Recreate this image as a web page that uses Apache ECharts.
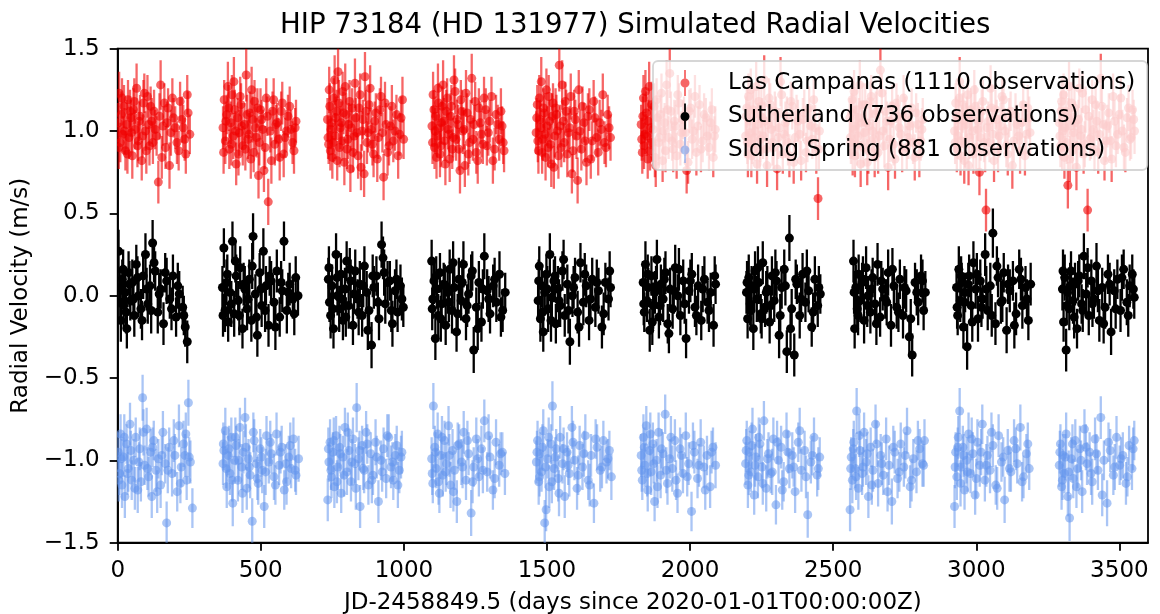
<!DOCTYPE html>
<html>
<head>
<meta charset="utf-8">
<script src="https://cdn.jsdelivr.net/npm/echarts@6/dist/echarts.min.js"></script>
<style>html,body{margin:0;padding:0;background:#fff}#chart{width:1160px;height:614px}</style>
</head>
<body>
<div id="chart"></div>
<script>
// [days, radial velocity (m/s), error (m/s)]
const lasCampanas = [
[2,1.05,.12],[5,1.23,.13],[9,0.93,.12],[13,1.10,.14],[18,0.98,.11],[22,1.15,.13],[27,0.88,.12],[31,1.04,.15],[36,1.19,.12],[40,0.96,.13],[46,1.08,.11],[51,0.85,.14],[55,1.13,.13],[61,1.01,.12],[66,1.26,.15],[72,0.94,.12],[78,1.09,.13],[84,0.82,.12],[90,1.17,.14],[97,1.00,.12],[104,1.21,.13],[111,0.91,.12],[119,1.06,.14],[127,1.12,.13],[136,0.97,.12],[142,0.69,.13],[150,1.28,.15],[158,1.03,.12],[167,0.90,.13],[176,1.14,.12],[186,0.99,.14],[195,1.08,.12],[207,0.93,.13],[218,1.18,.12],[229,1.02,.14],[238,0.86,.12],[246,1.11,.13],[252,0.98,.12],
[368,1.02,.13],[372,1.19,.12],[376,0.94,.14],[381,1.10,.12],[385,1.27,.15],[390,0.89,.12],[395,1.05,.13],[399,1.22,.12],[404,0.97,.14],[409,1.13,.12],[414,0.80,.13],[419,1.08,.12],[425,0.99,.14],[431,1.16,.13],[437,0.91,.12],[443,1.04,.13],[449,1.34,.16],[455,0.95,.12],[462,1.11,.13],[468,1.25,.14],[475,0.87,.12],[481,1.02,.13],[488,1.14,.12],[495,0.93,.14],[503,1.07,.12],[511,0.76,.13],[519,1.20,.12],[526,0.57,.14],[533,1.00,.13],[541,1.12,.12],[549,0.92,.13],[557,1.05,.12],[566,0.84,.14],[575,1.17,.13],[585,0.96,.12],[595,1.09,.13],[606,1.01,.12],[616,0.88,.14],[623,1.06,.13],
[733,1.07,.13],[737,0.92,.12],[741,1.15,.14],[745,1.01,.12],[750,0.84,.13],[755,1.20,.12],[760,0.97,.14],[765,1.12,.13],[770,1.36,.16],[775,0.90,.12],[781,1.05,.13],[786,1.24,.12],[792,0.81,.14],[798,1.10,.13],[804,0.95,.12],[810,1.18,.13],[816,1.02,.14],[822,0.87,.12],[829,1.29,.15],[836,0.99,.12],[843,1.14,.13],[850,0.78,.14],[857,1.07,.12],[864,1.33,.15],[871,0.93,.13],[878,1.16,.12],[886,1.01,.13],[894,0.86,.14],[902,1.11,.12],[911,0.96,.13],[920,1.21,.12],[929,0.72,.14],[938,1.04,.13],[948,0.91,.12],[958,1.15,.13],[969,1.00,.12],[980,0.85,.14],[990,1.08,.13],[999,0.95,.12],
[1098,1.03,.12],[1102,1.22,.14],[1107,0.90,.13],[1111,1.09,.12],[1116,0.97,.13],[1121,1.17,.12],[1126,0.86,.14],[1131,1.05,.13],[1137,1.28,.15],[1142,0.94,.12],[1148,1.12,.13],[1154,1.01,.12],[1160,0.83,.14],[1166,1.15,.13],[1172,0.96,.12],[1179,1.24,.14],[1185,1.07,.12],[1192,0.89,.13],[1199,1.19,.12],[1206,1.00,.14],[1213,0.79,.13],[1221,1.11,.12],[1229,0.93,.13],[1237,1.32,.15],[1245,1.04,.12],[1253,0.87,.13],[1262,1.14,.12],[1271,0.98,.14],[1280,1.20,.13],[1290,0.91,.12],[1300,1.06,.13],[1311,0.82,.14],[1322,1.10,.12],[1333,0.95,.13],[1343,1.03,.12],[1350,0.88,.13],
[1462,0.99,.13],[1466,1.16,.12],[1470,0.88,.14],[1475,1.07,.12],[1480,1.30,.15],[1485,0.95,.13],[1490,1.11,.12],[1495,0.84,.14],[1501,1.03,.12],[1506,1.21,.13],[1512,0.92,.12],[1518,1.09,.14],[1524,0.78,.13],[1530,1.14,.12],[1536,1.00,.13],[1543,1.40,.16],[1550,0.90,.12],[1557,1.06,.13],[1564,1.18,.12],[1571,0.86,.14],[1579,1.02,.13],[1587,0.74,.12],[1595,1.12,.13],[1603,0.97,.14],[1611,1.25,.12],[1620,0.89,.13],[1629,1.05,.12],[1638,0.81,.14],[1648,1.13,.13],[1658,0.94,.12],[1668,1.08,.13],[1679,0.87,.14],[1690,1.01,.12],[1701,0.93,.13],[1712,1.10,.12],[1722,0.96,.14],
[1829,1.04,.12],[1833,0.87,.13],[1837,1.20,.14],[1842,0.98,.12],[1847,1.11,.13],[1852,0.83,.12],[1857,1.27,.15],[1862,1.02,.13],[1868,0.93,.12],[1874,1.15,.14],[1880,0.79,.13],[1886,1.08,.12],[1893,0.96,.13],[1900,1.23,.12],[1907,1.00,.14],[1914,0.88,.13],[1921,1.13,.12],[1929,1.35,.15],[1937,0.94,.12],[1945,1.06,.13],[1953,0.85,.14],[1961,1.17,.12],[1970,0.99,.13],[1979,1.09,.12],[1988,0.76,.14],[1997,1.12,.13],[2007,0.95,.12],[2017,1.21,.13],[2027,1.03,.12],[2038,0.89,.14],[2049,1.10,.13],[2060,0.97,.12],[2071,1.05,.13],[2081,0.84,.12],[2088,1.01,.14],
[2194,0.97,.13],[2198,1.14,.12],[2202,0.86,.14],[2207,1.06,.12],[2212,1.25,.13],[2217,0.92,.12],[2222,1.10,.14],[2228,1.00,.13],[2234,0.80,.12],[2240,1.18,.13],[2246,0.95,.14],[2252,1.08,.12],[2259,1.31,.15],[2266,0.89,.13],[2273,1.04,.12],[2280,1.16,.13],[2288,0.93,.14],[2296,1.12,.12],[2304,0.77,.13],[2312,1.02,.12],[2320,1.22,.14],[2329,0.98,.13],[2338,1.09,.12],[2347,0.85,.13],[2357,1.15,.14],[2367,0.96,.12],[2377,1.06,.13],[2388,0.82,.12],[2399,1.11,.14],[2410,0.94,.13],[2421,1.03,.12],[2432,1.19,.13],[2441,0.88,.14],[2447,0.59,.13],[2452,1.00,.12],
[2558,1.08,.12],[2562,0.93,.13],[2566,1.19,.14],[2571,1.01,.12],[2576,0.85,.13],[2581,1.13,.12],[2587,0.97,.14],[2593,1.28,.15],[2599,1.05,.13],[2605,0.90,.12],[2612,1.16,.13],[2619,0.81,.14],[2626,1.03,.12],[2633,1.21,.13],[2641,0.95,.12],[2649,1.10,.14],[2657,0.87,.13],[2665,1.37,.16],[2674,1.00,.12],[2683,1.12,.13],[2692,0.78,.14],[2701,1.06,.12],[2711,0.92,.13],[2721,1.17,.12],[2731,1.02,.14],[2741,0.88,.13],[2752,1.09,.12],[2763,0.96,.13],[2774,1.14,.12],[2785,0.84,.14],[2796,1.04,.13],[2806,0.94,.12],[2813,1.07,.13],
[2924,1.00,.13],[2928,1.17,.12],[2932,0.89,.14],[2937,1.07,.12],[2942,1.30,.15],[2947,0.94,.13],[2952,1.11,.12],[2958,0.82,.14],[2964,1.04,.13],[2970,1.22,.12],[2976,0.96,.13],[2983,1.09,.14],[2990,0.86,.12],[2997,1.15,.13],[3004,1.01,.12],[3011,0.75,.14],[3019,1.12,.13],[3027,0.93,.12],[3034,0.52,.13],[3042,1.06,.12],[3050,1.26,.14],[3058,0.98,.13],[3067,1.13,.12],[3076,0.88,.13],[3085,1.03,.14],[3095,1.19,.12],[3105,0.91,.13],[3115,1.08,.12],[3126,0.79,.14],[3137,1.10,.13],[3148,0.97,.12],[3159,1.05,.13],[3170,0.85,.12],[3180,1.14,.14],[3188,0.99,.13],
[3290,1.05,.12],[3294,0.91,.13],[3298,1.18,.14],[3303,1.00,.12],[3308,0.84,.13],[3313,1.12,.12],[3320,0.67,.14],[3324,1.27,.15],[3330,1.03,.13],[3336,0.88,.12],[3343,1.14,.13],[3350,0.78,.14],[3357,1.07,.12],[3364,0.97,.13],[3371,1.23,.12],[3379,0.92,.14],[3389,0.52,.13],[3393,1.09,.12],[3401,0.96,.13],[3409,1.01,.12],[3417,1.16,.14],[3426,0.87,.13],[3435,1.32,.15],[3444,1.04,.12],[3453,0.94,.13],[3463,1.11,.12],[3473,0.83,.14],[3483,1.06,.13],[3494,0.98,.12],[3505,1.20,.13],[3516,0.90,.14],[3527,1.08,.12],[3537,0.95,.13],[3546,1.13,.12],[3553,1.00,.14],
[4,0.90,.13],[15,1.20,.12],[24,1.00,.14],[34,0.86,.12],[43,1.12,.13],[48,0.99,.12],[58,1.18,.14],[69,0.91,.13],[75,1.06,.12],[87,0.97,.13],[93,1.23,.12],[100,0.88,.14],[108,1.04,.13],[115,1.15,.12],[123,0.93,.13],[131,1.01,.12],[146,1.09,.14],[154,0.84,.13],[163,1.17,.12],[172,1.05,.13],[181,0.79,.14],[191,1.20,.12],[201,1.02,.13],[213,0.88,.12],[224,1.07,.14],[234,0.95,.13],[243,1.22,.12],
[370,0.87,.13],[378,1.06,.12],[388,1.14,.14],[397,0.92,.13],[406,1.30,.15],[412,1.00,.12],[422,0.86,.13],[428,1.21,.12],[434,1.03,.14],[446,0.89,.13],[452,1.10,.12],[459,0.98,.13],[465,0.83,.12],[471,1.07,.14],[478,1.18,.13],[485,0.96,.12],[492,0.73,.14],[499,1.13,.13],[507,1.01,.12],[515,0.90,.13],[523,1.09,.12],[537,0.82,.14],[545,1.19,.13],[553,1.04,.12],[562,0.95,.13],[571,1.12,.12],[580,0.86,.14],[590,1.00,.13],[601,1.15,.12],[611,0.93,.13],[620,1.02,.12],
[735,0.96,.13],[739,1.25,.14],[743,0.88,.12],[748,1.05,.13],[753,0.93,.12],[758,1.31,.15],[762,1.08,.13],[767,0.82,.12],[773,1.17,.14],[778,1.02,.13],[784,0.94,.12],[789,1.11,.13],[795,1.27,.14],[801,0.89,.12],[807,1.04,.13],[813,0.77,.14],[819,1.14,.12],[826,0.97,.13],[832,1.08,.12],[840,0.85,.14],[847,1.22,.13],[854,1.00,.12],[861,0.74,.14],[868,1.12,.13],[875,0.99,.12],[882,1.26,.14],[890,0.92,.13],[898,1.06,.12],[907,0.83,.14],[916,1.13,.13],[925,0.99,.12],[934,1.17,.13],[943,0.87,.14],[953,1.03,.12],[963,0.94,.13],[974,1.10,.12],[985,0.98,.13],[995,1.19,.14],
[1100,0.93,.13],[1105,1.13,.12],[1109,1.00,.14],[1114,0.84,.13],[1119,1.26,.15],[1124,1.02,.12],[1129,0.91,.13],[1134,1.15,.12],[1140,1.06,.14],[1145,0.80,.13],[1151,1.20,.12],[1157,0.98,.13],[1163,1.09,.14],[1169,0.89,.12],[1175,1.31,.15],[1182,0.95,.13],[1189,1.04,.12],[1196,0.76,.14],[1203,1.12,.13],[1210,1.01,.12],[1217,1.23,.14],[1225,0.86,.13],[1233,1.07,.12],[1241,0.95,.13],[1249,1.18,.12],[1258,0.82,.14],[1267,1.05,.13],[1276,0.92,.12],[1286,1.13,.13],[1295,0.99,.14],[1306,1.21,.12],[1317,0.89,.13],[1328,1.04,.12],[1339,1.12,.14],[1347,0.93,.13],
[1464,1.08,.12],[1468,0.94,.13],[1473,1.20,.14],[1478,1.02,.12],[1483,0.87,.13],[1488,1.14,.12],[1493,0.98,.14],[1498,1.25,.13],[1504,0.90,.12],[1509,1.06,.13],[1515,0.80,.14],[1521,1.17,.12],[1527,0.97,.13],[1533,1.10,.12],[1540,0.85,.14],[1546,1.03,.13],[1553,1.28,.15],[1560,0.93,.12],[1567,1.12,.13],[1575,0.99,.12],[1583,1.21,.14],[1591,0.88,.13],[1599,1.07,.12],[1607,0.70,.14],[1615,1.00,.13],[1624,1.15,.12],[1633,0.94,.13],[1643,1.09,.14],[1653,0.83,.12],[1663,1.18,.13],[1673,0.96,.12],[1684,1.05,.14],[1695,1.22,.13],[1706,0.90,.12],[1717,1.02,.13],
[1831,0.95,.13],[1835,1.09,.12],[1839,0.91,.14],[1844,1.24,.13],[1849,0.97,.12],[1854,1.06,.13],[1860,0.88,.12],[1865,1.16,.14],[1871,1.01,.13],[1877,0.84,.12],[1883,1.19,.13],[1890,0.93,.14],[1897,1.10,.12],[1904,0.82,.13],[1911,1.05,.12],[1918,1.28,.15],[1925,0.96,.13],[1933,1.12,.12],[1941,0.89,.14],[1949,1.03,.13],[1957,1.22,.12],[1966,0.92,.13],[1975,1.07,.12],[1984,0.99,.14],[1993,0.81,.13],[2002,1.14,.12],[2012,1.00,.13],[2022,0.87,.14],[2033,1.16,.12],[2044,0.94,.13],[2055,1.08,.12],[2066,0.90,.14],[2076,1.13,.13],[2085,0.97,.12],
[2196,1.09,.12],[2200,0.93,.13],[2204,1.21,.14],[2209,0.99,.12],[2214,0.85,.13],[2220,1.13,.12],[2225,0.96,.14],[2231,1.27,.15],[2237,1.04,.13],[2243,0.88,.12],[2249,1.15,.13],[2255,0.97,.14],[2262,1.06,.12],[2269,0.79,.13],[2276,1.20,.12],[2284,1.01,.14],[2292,0.90,.13],[2300,1.09,.12],[2308,0.96,.13],[2316,1.30,.15],[2324,0.86,.12],[2333,1.05,.13],[2342,0.93,.14],[2352,1.18,.12],[2362,0.81,.13],[2372,1.10,.12],[2383,0.98,.14],[2394,1.07,.13],[2405,0.87,.12],[2416,1.14,.13],[2427,0.95,.12],[2437,1.02,.14],[2450,0.89,.13],
[2560,0.96,.13],[2564,1.11,.12],[2568,0.87,.14],[2573,1.24,.13],[2578,1.03,.12],[2584,0.92,.13],[2590,1.08,.12],[2596,0.80,.14],[2602,1.16,.13],[2609,0.99,.12],[2616,1.05,.13],[2623,0.88,.14],[2630,1.18,.12],[2637,1.00,.13],[2645,0.84,.12],[2653,1.12,.14],[2661,0.97,.13],[2670,1.23,.12],[2679,0.91,.13],[2688,1.06,.12],[2697,0.95,.14],[2706,1.15,.13],[2716,0.83,.12],[2726,1.09,.13],[2736,0.98,.12],[2746,1.20,.14],[2757,0.90,.13],[2768,1.03,.12],[2779,0.93,.13],[2790,1.11,.12],[2801,0.86,.14],[2810,1.01,.13],
[2926,0.93,.13],[2930,1.09,.12],[2935,0.97,.14],[2940,1.20,.13],[2945,0.85,.12],[2950,1.03,.13],[2955,1.16,.12],[2961,0.92,.14],[2967,1.08,.13],[2973,0.79,.12],[2980,1.13,.13],[2986,1.00,.14],[2993,1.25,.12],[3000,0.90,.13],[3007,1.06,.12],[3015,0.96,.14],[3023,1.18,.13],[3031,0.87,.12],[3038,1.02,.13],[3046,0.93,.12],[3054,1.14,.14],[3062,0.82,.13],[3071,1.07,.12],[3080,0.97,.13],[3090,1.21,.12],[3100,1.00,.14],[3110,0.86,.13],[3120,1.12,.12],[3131,0.94,.13],[3142,1.04,.12],[3153,0.88,.14],[3164,1.16,.13],[3175,0.98,.12],[3185,1.08,.13],
[3292,0.97,.13],[3296,1.12,.12],[3300,0.90,.14],[3305,1.22,.13],[3310,1.02,.12],[3316,0.93,.13],[3322,1.08,.12],[3327,0.83,.14],[3333,1.17,.13],[3340,0.99,.12],[3346,1.05,.13],[3353,0.91,.14],[3360,1.26,.12],[3367,1.01,.13],[3375,0.86,.12],[3382,1.13,.14],[3397,0.95,.13],[3405,1.19,.12],[3413,0.89,.13],[3421,1.06,.12],[3430,0.98,.14],[3439,1.15,.13],[3448,0.82,.12],[3458,1.03,.13],[3468,0.94,.12],[3478,1.21,.14],[3488,0.91,.13],[3499,1.10,.12],[3510,1.00,.13],[3521,0.87,.12],[3532,1.14,.14],[3541,0.96,.13],[3550,1.07,.12]
];
const sutherland = [
[3,0.27,.13],[7,0.05,.12],[11,-0.15,.13],[16,0.10,.12],[21,-0.06,.14],[26,0.02,.13],[32,-0.20,.12],[38,0.14,.13],[44,-0.03,.12],[51,0.08,.14],[58,-0.12,.13],[65,0.19,.12],[73,0.00,.13],[81,-0.08,.12],[89,0.12,.14],[97,0.25,.13],[105,-0.05,.12],[113,0.06,.13],[122,0.32,.14],[131,0.15,.12],[140,-0.10,.13],[150,0.04,.12],[160,-0.17,.13],[171,0.09,.14],[182,-0.02,.12],[193,0.12,.13],[204,-0.13,.12],[215,0.01,.14],[227,-0.07,.13],[236,-0.19,.12],[243,-0.28,.13],
[366,0.05,.13],[371,0.29,.12],[375,-0.09,.13],[380,0.08,.14],[386,-0.16,.12],[392,0.02,.13],[401,0.33,.12],[407,-0.11,.14],[414,0.12,.13],[421,-0.03,.12],[428,0.17,.13],[436,-0.20,.12],[444,0.04,.14],[452,-0.08,.13],[460,0.10,.12],[467,-0.15,.13],[473,0.36,.14],[481,0.01,.12],[488,-0.24,.13],[496,0.14,.12],[503,-0.06,.13],[509,0.27,.14],[518,0.06,.12],[527,-0.18,.13],[536,0.09,.12],[546,-0.04,.14],[556,0.15,.13],[566,-0.13,.12],[575,0.03,.13],[581,0.33,.12],[591,-0.09,.14],[601,0.07,.13],[612,-0.02,.12],[622,0.11,.13],[630,0.00,.12],
[736,0.10,.13],[740,-0.04,.12],[744,-0.12,.14],[749,0.06,.13],[754,-0.20,.12],[763,0.25,.13],[768,0.00,.12],[774,-0.08,.14],[780,0.13,.13],[787,-0.15,.12],[794,0.04,.13],[800,0.21,.12],[807,-0.06,.14],[814,0.09,.13],[822,-0.18,.12],[830,0.15,.13],[838,-0.02,.12],[846,0.07,.14],[854,-0.12,.13],[862,0.18,.12],[870,0.02,.13],[878,-0.09,.12],[887,-0.30,.14],[895,0.05,.13],[904,0.12,.12],[913,-0.14,.13],[922,0.31,.14],[927,0.23,.13],[935,-0.05,.12],[943,0.08,.13],[951,0.09,.12],[960,-0.17,.14],[969,0.03,.13],[978,-0.10,.12],[988,0.06,.13],[998,-0.07,.12],
[1097,0.21,.13],[1101,-0.02,.12],[1105,0.09,.14],[1110,-0.26,.13],[1115,0.04,.12],[1120,-0.12,.13],[1126,0.14,.12],[1132,-0.05,.14],[1139,0.07,.13],[1146,-0.18,.12],[1153,0.02,.13],[1160,0.16,.12],[1168,-0.09,.14],[1176,0.05,.13],[1184,-0.22,.12],[1192,0.10,.13],[1200,-0.03,.12],[1208,0.19,.14],[1217,-0.14,.13],[1226,0.01,.12],[1235,0.12,.13],[1244,-0.33,.14],[1253,-0.07,.12],[1262,0.08,.13],[1271,-0.16,.12],[1281,0.24,.14],[1291,0.03,.13],[1301,-0.11,.12],[1312,0.06,.13],[1323,-0.04,.12],[1334,0.13,.14],[1345,-0.09,.13],[1354,0.02,.12],
[1469,-0.03,.13],[1473,0.18,.12],[1477,-0.14,.14],[1482,0.06,.13],[1487,-0.22,.12],[1492,0.02,.13],[1498,0.13,.12],[1504,-0.08,.14],[1510,0.25,.13],[1517,-0.01,.12],[1524,0.09,.13],[1531,-0.17,.12],[1538,0.04,.14],[1546,-0.06,.13],[1554,0.15,.12],[1562,-0.12,.13],[1571,0.07,.12],[1580,-0.28,.14],[1589,0.00,.13],[1598,0.11,.12],[1607,-0.10,.13],[1617,0.20,.12],[1627,-0.04,.14],[1637,0.06,.13],[1647,-0.15,.12],[1658,0.10,.13],[1669,-0.07,.12],[1680,0.03,.14],[1692,-0.19,.13],[1704,0.08,.12],[1715,-0.02,.13],[1722,0.05,.12],
[1836,0.08,.13],[1840,-0.10,.12],[1844,0.19,.14],[1849,-0.03,.13],[1854,0.05,.12],[1859,-0.21,.13],[1865,0.12,.12],[1871,-0.06,.14],[1877,0.02,.13],[1884,0.22,.12],[1891,-0.13,.13],[1898,0.07,.12],[1906,-0.02,.14],[1914,0.14,.13],[1922,-0.17,.12],[1930,0.04,.13],[1939,-0.08,.12],[1948,0.17,.14],[1957,0.00,.13],[1966,-0.12,.12],[1976,0.09,.13],[1986,-0.26,.12],[1996,0.03,.14],[2006,0.13,.13],[2017,-0.07,.12],[2028,0.06,.13],[2039,-0.15,.12],[2050,0.10,.14],[2061,-0.04,.13],[2072,0.02,.12],[2082,-0.18,.13],[2089,0.07,.12],
[2197,0.02,.13],[2201,-0.14,.12],[2205,0.11,.14],[2210,-0.05,.13],[2215,0.06,.12],[2221,-0.20,.13],[2227,0.15,.12],[2233,-0.02,.14],[2240,0.08,.13],[2247,-0.11,.12],[2254,0.20,.13],[2262,-0.07,.12],[2270,0.04,.14],[2278,-0.16,.13],[2286,0.12,.12],[2294,-0.03,.13],[2302,0.09,.12],[2311,-0.24,.14],[2320,0.05,.13],[2329,0.16,.12],[2338,-0.34,.13],[2347,0.35,.14],[2355,-0.08,.12],[2364,-0.36,.13],[2373,0.07,.12],[2383,-0.12,.14],[2393,0.13,.13],[2403,-0.04,.12],[2414,0.03,.13],[2425,-0.19,.12],[2436,0.10,.14],[2446,-0.06,.13],[2455,0.01,.12],
[2571,0.21,.13],[2575,-0.20,.12],[2579,0.05,.14],[2584,-0.08,.13],[2589,0.13,.12],[2595,-0.03,.13],[2601,0.08,.12],[2608,-0.15,.14],[2615,0.17,.13],[2622,0.00,.12],[2630,-0.10,.13],[2638,0.11,.12],[2646,-0.05,.14],[2655,0.19,.13],[2664,-0.13,.12],[2673,0.04,.13],[2682,-0.02,.12],[2692,0.14,.14],[2702,-0.18,.13],[2712,0.06,.12],[2722,-0.07,.13],[2733,0.10,.12],[2744,-0.12,.14],[2755,0.03,.13],[2766,-0.25,.12],[2776,-0.36,.13],[2786,0.08,.12],[2797,-0.04,.14],[2807,0.12,.13],[2816,-0.09,.12],[2822,0.02,.13],
[2931,0.05,.13],[2935,-0.12,.12],[2939,0.16,.14],[2944,-0.03,.13],[2949,0.08,.12],[2955,-0.19,.13],[2961,0.02,.12],[2968,-0.31,.14],[2975,0.12,.13],[2982,-0.06,.12],[2990,0.20,.13],[2998,0.04,.12],[3006,-0.14,.14],[3014,0.09,.13],[3022,-0.02,.12],[3031,0.25,.13],[3040,-0.09,.12],[3049,0.06,.14],[3058,0.38,.15],[3067,-0.17,.13],[3076,0.11,.12],[3086,-0.04,.13],[3096,0.14,.12],[3106,-0.21,.14],[3117,0.03,.13],[3128,0.09,.12],[3139,-0.11,.13],[3150,0.16,.12],[3161,-0.06,.14],[3172,0.05,.13],[3182,-0.15,.12],[3190,0.07,.13],
[3301,0.04,.13],[3305,-0.16,.12],[3309,0.11,.14],[3314,-0.33,.13],[3319,0.02,.12],[3325,-0.08,.13],[3331,0.15,.12],[3338,-0.03,.14],[3345,0.07,.13],[3352,-0.20,.12],[3360,0.12,.13],[3368,-0.05,.12],[3376,0.24,.14],[3384,0.01,.13],[3393,-0.12,.12],[3402,0.09,.13],[3411,-0.02,.12],[3420,0.18,.14],[3430,-0.15,.13],[3440,0.05,.12],[3450,-0.07,.13],[3460,0.13,.12],[3471,-0.22,.14],[3482,0.03,.13],[3493,0.10,.12],[3504,-0.09,.13],[3515,0.16,.12],[3526,-0.04,.14],[3536,0.06,.13],[3545,0.13,.12],[3552,-0.01,.13],
[9,-0.04,.13],[19,0.16,.12],[29,-0.10,.13],[41,0.07,.14],[55,-0.02,.12],[69,0.11,.13],[85,-0.15,.12],[101,0.04,.13],[117,-0.09,.14],[127,0.20,.12],[145,0.01,.13],[166,0.14,.12],[188,-0.08,.13],[210,0.06,.14],[231,-0.12,.12],
[368,-0.12,.13],[383,0.13,.12],[397,-0.05,.14],[411,0.21,.13],[425,-0.12,.12],[440,0.07,.13],[456,-0.02,.12],[470,0.18,.14],[485,-0.13,.13],[500,0.04,.12],[515,-0.09,.13],[531,0.12,.12],[551,-0.19,.14],[571,0.08,.13],[596,0.02,.12],[617,-0.11,.13],
[738,0.17,.13],[752,-0.08,.12],[766,0.11,.14],[783,-0.02,.13],[797,-0.13,.12],[811,0.16,.13],[826,0.01,.12],[842,-0.10,.14],[858,0.06,.13],[874,-0.21,.12],[891,0.12,.13],[909,-0.04,.12],[931,0.14,.14],[956,-0.09,.13],[974,0.10,.12],[993,-0.02,.13],
[1099,-0.08,.13],[1113,0.12,.12],[1129,-0.14,.14],[1143,0.06,.13],[1157,-0.04,.12],[1172,0.20,.13],[1188,-0.11,.12],[1204,0.08,.14],[1221,-0.06,.13],[1239,0.15,.12],[1258,-0.20,.13],[1276,0.04,.12],[1296,-0.02,.14],[1317,0.10,.13],[1339,-0.13,.12],
[1471,0.09,.13],[1485,-0.10,.12],[1501,0.04,.14],[1514,-0.15,.13],[1528,0.12,.12],[1542,-0.03,.13],[1558,0.22,.12],[1575,-0.09,.14],[1593,0.05,.13],[1612,-0.19,.12],[1632,0.13,.13],[1652,-0.02,.12],[1674,0.08,.14],[1698,-0.11,.13],[1719,0.15,.12],
[1838,-0.05,.13],[1852,0.13,.12],[1868,-0.16,.14],[1881,0.05,.13],[1895,-0.06,.12],[1910,0.10,.13],[1926,-0.23,.12],[1943,0.03,.14],[1961,0.16,.13],[1981,-0.05,.12],[2001,0.09,.13],[2022,-0.12,.12],[2044,0.04,.14],[2066,-0.09,.13],[2086,0.12,.12],
[2199,0.08,.13],[2212,-0.09,.12],[2224,0.04,.14],[2237,0.17,.13],[2250,-0.14,.12],[2266,0.02,.13],[2282,-0.06,.12],[2298,0.14,.14],[2315,-0.12,.13],[2333,0.06,.12],[2351,-0.20,.13],[2369,0.10,.12],[2388,-0.02,.14],[2408,0.15,.13],[2430,-0.10,.12],[2450,0.05,.13],
[2573,0.02,.13],[2587,-0.12,.12],[2604,0.10,.14],[2619,-0.06,.13],[2634,0.04,.12],[2651,-0.17,.13],[2668,0.09,.12],[2687,-0.04,.14],[2707,0.16,.13],[2728,-0.10,.12],[2749,0.05,.13],[2771,-0.14,.12],[2792,0.02,.14],[2812,0.09,.13],
[2933,-0.07,.13],[2947,0.12,.12],[2958,-0.04,.14],[2972,0.07,.13],[2986,-0.16,.12],[3002,0.13,.13],[3018,-0.07,.12],[3035,0.04,.14],[3054,-0.12,.13],[3072,0.18,.12],[3091,-0.03,.13],[3111,0.07,.12],[3133,-0.18,.14],[3156,0.10,.13],[3177,-0.02,.12],
[3303,0.15,.13],[3316,-0.06,.12],[3328,0.06,.14],[3342,-0.13,.13],[3356,0.09,.12],[3372,-0.09,.13],[3389,0.17,.12],[3406,-0.05,.14],[3425,0.03,.13],[3445,-0.17,.12],[3466,0.07,.13],[3487,-0.08,.12],[3509,0.11,.14],[3531,-0.12,.13],[3549,0.04,.12]
];
const sidingSpring = [
[2,-0.95,.12],[6,-1.08,.13],[10,-0.84,.12],[15,-1.15,.14],[20,-0.98,.12],[25,-1.22,.13],[31,-0.90,.12],[37,-1.05,.14],[43,-0.78,.13],[49,-1.12,.12],[56,-1.00,.13],[63,-0.86,.12],[70,-1.18,.14],[77,-0.93,.13],[81,-1.13,.12],[87,-0.62,.14],[94,-1.03,.12],[101,-0.81,.13],[108,-1.10,.12],[115,-0.95,.14],[119,-1.22,.13],[126,-0.88,.12],[134,-1.06,.13],[142,-0.99,.12],[150,-1.15,.14],[158,-0.83,.13],[166,-1.02,.12],[171,-1.38,.13],[180,-0.92,.12],[190,-1.08,.14],[200,-0.97,.13],[208,-1.19,.12],[214,-0.79,.13],[222,-1.04,.12],[230,-0.90,.14],[235,-0.97,.13],[241,-1.12,.12],[247,-0.65,.14],[254,-1.01,.13],[261,-1.29,.12],
[368,-1.02,.13],[371,-0.94,.12],[376,-0.82,.14],[381,-1.16,.13],[386,-0.97,.12],[392,-1.08,.13],[397,-0.86,.12],[402,-1.26,.14],[408,-1.00,.13],[414,-0.91,.12],[420,-1.12,.13],[427,-0.80,.12],[433,-1.04,.14],[439,-0.95,.13],[445,-0.74,.12],[451,-1.17,.13],[457,-0.99,.12],[463,-1.09,.14],[470,-1.37,.14],[477,-0.88,.13],[484,-1.02,.12],[491,-1.14,.13],[498,-0.93,.12],[505,-1.06,.14],[512,-1.28,.13],[520,-0.85,.12],[528,-1.01,.13],[537,-0.96,.12],[546,-1.10,.14],[555,-0.84,.13],[564,-1.03,.12],[573,-0.92,.13],[582,-1.18,.12],[590,-1.13,.14],[598,-0.98,.13],[606,-1.05,.12],[614,-0.87,.13],[623,-1.09,.12],[632,-0.99,.14],
[734,-1.24,.13],[738,-1.01,.12],[742,-0.89,.14],[747,-1.10,.13],[752,-0.95,.12],[757,-1.16,.13],[763,-0.85,.12],[769,-1.04,.14],[775,-0.92,.13],[781,-1.20,.12],[787,-0.98,.13],[794,-0.80,.12],[801,-1.07,.14],[808,-0.94,.13],[815,-1.13,.12],[822,-0.87,.13],[829,-1.02,.12],[835,-0.68,.15],[841,-0.99,.13],[847,-1.28,.13],[854,-0.91,.12],[861,-1.06,.14],[868,-0.83,.13],[876,-1.15,.12],[884,-0.96,.13],[892,-1.09,.12],[901,-0.89,.14],[911,-1.25,.13],[920,-1.00,.12],[929,-0.93,.13],[938,-1.11,.12],[947,-0.86,.14],[955,-1.04,.13],[963,-1.12,.12],[970,-0.97,.13],[975,-0.91,.12],[984,-1.06,.14],[993,-0.95,.13],
[1097,-0.99,.13],[1101,-1.14,.12],[1103,-0.67,.14],[1108,-0.92,.13],[1113,-1.05,.12],[1118,-0.84,.13],[1124,-1.20,.12],[1130,-0.97,.14],[1136,-1.09,.13],[1142,-0.88,.12],[1149,-1.02,.13],[1156,-0.79,.12],[1163,-1.15,.14],[1170,-0.94,.13],[1177,-1.06,.12],[1185,-1.25,.13],[1193,-0.90,.12],[1201,-1.01,.14],[1209,-0.83,.13],[1217,-1.12,.12],[1226,-0.96,.13],[1235,-1.32,.14],[1244,-1.04,.12],[1253,-0.87,.13],[1262,-1.10,.12],[1271,-0.93,.14],[1281,-0.76,.13],[1291,-1.07,.12],[1301,-0.98,.13],[1311,-1.18,.12],[1322,-0.89,.14],[1333,-1.03,.13],[1344,-0.95,.12],[1353,-1.08,.13],
[1463,-1.01,.13],[1467,-0.88,.12],[1471,-1.13,.14],[1476,-0.96,.13],[1481,-1.07,.12],[1487,-0.82,.13],[1492,-1.38,.14],[1497,-1.30,.13],[1502,-0.99,.12],[1508,-1.16,.13],[1514,-0.90,.12],[1519,-0.67,.15],[1525,-1.05,.13],[1532,-0.93,.12],[1539,-1.11,.14],[1546,-0.86,.13],[1554,-1.02,.12],[1562,-1.22,.13],[1570,-0.95,.12],[1578,-1.08,.14],[1587,-0.80,.13],[1596,-1.00,.12],[1605,-1.17,.13],[1614,-0.91,.12],[1624,-1.04,.14],[1634,-0.85,.13],[1644,-1.12,.12],[1654,-0.97,.13],[1664,-1.26,.12],[1675,-0.92,.14],[1686,-1.06,.13],[1697,-0.88,.12],[1708,-1.01,.13],[1718,-0.94,.12],[1725,-1.10,.14],
[1829,-0.97,.13],[1833,-1.12,.12],[1837,-0.86,.14],[1842,-1.03,.13],[1847,-0.79,.12],[1852,-1.18,.13],[1858,-0.94,.12],[1864,-1.07,.14],[1870,-0.90,.13],[1876,-1.25,.12],[1883,-1.00,.13],[1890,-0.83,.12],[1897,-1.09,.14],[1905,-0.96,.13],[1913,-0.72,.12],[1921,-1.14,.13],[1929,-0.99,.12],[1938,-1.05,.14],[1947,-0.88,.13],[1956,-1.20,.12],[1965,-0.93,.13],[1975,-1.08,.12],[1985,-0.85,.14],[1995,-1.02,.13],[2005,-1.31,.12],[2015,-0.95,.13],[2026,-1.11,.12],[2037,-0.89,.14],[2048,-1.04,.13],[2059,-0.97,.12],[2070,-1.16,.13],[2080,-0.92,.12],[2089,-1.03,.14],
[2194,-1.02,.13],[2198,-0.88,.12],[2202,-1.15,.14],[2207,-0.95,.13],[2212,-1.07,.12],[2218,-0.81,.13],[2224,-1.21,.12],[2230,-0.98,.14],[2237,-1.10,.13],[2244,-0.90,.12],[2251,-1.04,.13],[2258,-0.76,.12],[2266,-1.17,.14],[2274,-0.96,.13],[2282,-1.08,.12],[2291,-0.87,.13],[2300,-1.27,.12],[2309,-1.00,.14],[2318,-0.92,.13],[2327,-1.13,.12],[2337,-0.84,.13],[2347,-1.05,.12],[2357,-0.97,.14],[2367,-1.19,.13],[2378,-0.89,.12],[2389,-1.06,.13],[2400,-0.94,.12],[2411,-1.33,.14],[2422,-1.01,.13],[2433,-0.86,.12],[2444,-1.09,.13],[2453,-0.98,.12],
[2559,-1.30,.13],[2563,-0.98,.12],[2567,-1.12,.14],[2572,-0.89,.13],[2577,-1.05,.12],[2582,-0.70,.14],[2588,-1.17,.13],[2594,-0.94,.12],[2601,-1.08,.13],[2608,-0.83,.12],[2615,-1.01,.14],[2623,-1.22,.13],[2631,-0.92,.12],[2639,-1.06,.13],[2648,-0.78,.12],[2657,-1.14,.14],[2666,-0.97,.13],[2675,-1.09,.12],[2685,-0.87,.13],[2695,-1.03,.12],[2705,-1.25,.14],[2715,-0.95,.13],[2725,-1.11,.12],[2736,-0.90,.13],[2747,-1.04,.12],[2758,-0.82,.14],[2769,-1.16,.13],[2780,-0.99,.12],[2791,-1.07,.13],[2802,-0.93,.12],[2812,-1.02,.14],[2819,-0.88,.13],
[2924,-1.28,.13],[2928,-0.95,.12],[2932,-1.10,.14],[2937,-0.86,.13],[2942,-0.70,.14],[2947,-1.04,.12],[2953,-0.92,.13],[2959,-1.18,.12],[2966,-1.00,.14],[2973,-0.84,.13],[2980,-1.08,.12],[2988,-0.96,.13],[2996,-1.21,.12],[3004,-0.89,.14],[3012,-1.03,.13],[3021,-0.78,.12],[3030,-1.12,.13],[3039,-0.97,.12],[3048,-1.06,.14],[3058,-0.91,.13],[3068,-1.15,.12],[3078,-0.85,.13],[3088,-1.01,.12],[3099,-1.24,.14],[3110,-0.94,.13],[3121,-1.07,.12],[3132,-0.88,.13],[3143,-1.02,.12],[3154,-0.80,.14],[3165,-1.10,.13],[3175,-0.96,.12],[3185,-1.05,.13],
[3290,-1.03,.13],[3294,-0.90,.12],[3298,-1.16,.14],[3303,-0.97,.13],[3308,-1.08,.12],[3314,-0.84,.13],[3320,-1.22,.12],[3326,-1.35,.14],[3332,-0.99,.13],[3339,-1.11,.12],[3346,-0.88,.13],[3354,-1.05,.12],[3362,-0.93,.14],[3370,-1.19,.13],[3378,-0.81,.12],[3387,-1.02,.13],[3396,-0.95,.12],[3405,-1.13,.14],[3415,-0.87,.13],[3425,-1.06,.12],[3435,-0.74,.13],[3446,-1.00,.12],[3457,-1.26,.14],[3468,-0.94,.13],[3479,-1.09,.12],[3490,-0.86,.13],[3501,-1.03,.12],[3512,-0.97,.14],[3523,-1.14,.13],[3534,-0.91,.12],[3544,-1.05,.13],[3552,-0.88,.12],
[4,-1.12,.13],[12,-0.99,.12],[23,-0.86,.14],[34,-1.08,.13],[46,-0.94,.12],[60,-1.17,.13],[74,-1.01,.12],[90,-0.83,.14],[104,-1.05,.13],[122,-0.92,.12],[138,-1.19,.13],[154,-0.97,.12],[175,-1.06,.14],[196,-0.88,.13],[219,-1.14,.12],[238,-0.84,.13],[250,-0.98,.12],
[369,-0.90,.13],[379,-1.05,.12],[389,-0.93,.14],[400,-1.12,.13],[411,-0.86,.12],[423,-1.00,.13],[436,-1.20,.12],[448,-0.92,.14],[460,-1.04,.13],[474,-0.83,.12],[488,-1.11,.13],[502,-0.98,.12],[517,-1.07,.14],[533,-0.89,.13],[551,-1.15,.12],[569,-0.95,.13],[587,-1.02,.12],[603,-0.91,.14],[620,-1.06,.13],
[736,-0.93,.13],[745,-1.06,.12],[755,-0.88,.14],[766,-1.13,.13],[778,-0.96,.12],[791,-1.09,.13],[804,-0.83,.12],[818,-1.01,.14],[832,-1.17,.13],[845,-0.94,.12],[858,-1.05,.13],[872,-0.90,.12],[888,-1.12,.14],[905,-0.98,.13],[924,-1.07,.12],[942,-0.85,.13],[960,-1.01,.12],[979,-1.15,.14],[990,-0.98,.13],
[1099,-1.08,.13],[1111,-0.95,.12],[1121,-1.13,.14],[1133,-0.86,.13],[1146,-1.07,.12],[1159,-0.97,.13],[1173,-1.19,.12],[1188,-0.91,.14],[1205,-1.04,.13],[1222,-0.88,.12],[1240,-1.13,.13],[1258,-0.99,.12],[1276,-1.06,.14],[1296,-0.85,.13],[1317,-1.11,.12],[1338,-0.96,.13],
[1465,-0.95,.13],[1474,-1.10,.12],[1484,-0.92,.14],[1495,-1.04,.13],[1506,-0.86,.12],[1517,-1.13,.13],[1529,-0.98,.12],[1542,-1.20,.14],[1558,-0.93,.13],[1574,-1.03,.12],[1591,-0.89,.13],[1609,-1.09,.12],[1629,-0.96,.14],[1649,-1.15,.13],[1670,-0.87,.12],[1692,-1.04,.13],[1713,-0.99,.12],
[1831,-1.06,.13],[1840,-0.92,.12],[1850,-1.08,.14],[1861,-0.84,.13],[1873,-1.02,.12],[1886,-1.16,.13],[1900,-0.93,.12],[1917,-1.06,.14],[1933,-0.86,.13],[1951,-1.12,.12],[1970,-0.97,.13],[1990,-1.10,.12],[2010,-0.91,.14],[2031,-1.03,.13],[2053,-1.18,.12],[2075,-0.95,.13],
[2196,-0.94,.13],[2205,-1.09,.12],[2215,-0.91,.14],[2227,-1.03,.13],[2240,-0.86,.12],[2254,-1.14,.13],[2270,-0.99,.12],[2287,-1.07,.14],[2304,-0.89,.13],[2322,-1.18,.12],[2342,-0.95,.13],[2362,-1.04,.12],[2383,-0.82,.14],[2405,-1.10,.13],[2427,-0.97,.12],[2448,-1.05,.13],
[2561,-1.05,.13],[2570,-0.93,.12],[2580,-1.10,.14],[2591,-0.85,.13],[2604,-1.04,.12],[2619,-0.96,.13],[2635,-1.15,.12],[2652,-0.90,.14],[2670,-1.02,.13],[2690,-1.19,.12],[2710,-0.92,.13],[2731,-1.07,.12],[2752,-0.97,.14],[2774,-1.12,.13],[2796,-0.88,.12],[2816,-1.03,.13],
[2926,-1.04,.13],[2935,-0.92,.12],[2945,-1.14,.14],[2956,-0.97,.13],[2969,-1.07,.12],[2984,-0.87,.13],[3000,-1.11,.12],[3017,-0.95,.14],[3035,-1.03,.13],[3053,-0.83,.12],[3073,-1.17,.13],[3094,-0.98,.12],[3116,-1.05,.14],[3138,-0.93,.13],[3160,-1.13,.12],[3180,-0.90,.13],
[3292,-0.95,.13],[3301,-1.12,.12],[3311,-0.98,.14],[3323,-1.07,.13],[3336,-0.90,.12],[3350,-1.16,.13],[3366,-1.00,.12],[3383,-0.92,.14],[3401,-1.08,.13],[3420,-0.96,.12],[3440,-1.21,.13],[3462,-0.89,.12],[3484,-1.04,.14],[3506,-0.99,.13],[3528,-1.10,.12],[3548,-0.93,.13]
];
const seriesNames = ['Las Campanas (1110 observations)', 'Sutherland (736 observations)', 'Siding Spring (881 observations)'];
const xTicks = [0, 500, 1000, 1500, 2000, 2500, 3000, 3500];
const yTicks = [-1.5, -1.0, -0.5, 0.0, 0.5, 1.0, 1.5];
const titleText = 'HIP 73184 (HD 131977) Simulated Radial Velocities';
const xLabel = 'JD-2458849.5 (days since 2020-01-01T00:00:00Z)';
const yLabel = 'Radial Velocity (m/s)';

const FONT = 'DejaVu Sans';
const colors = ['rgba(240,0,0,0.6)', '#000000', 'rgba(100,149,237,0.55)'];
// error-bar legend glyph: two zero-area anchors widen the box so the glyph sits at the handle centre
const icon = 'path://M-18.5,13L-18.5,13Z M42.5,13L42.5,13Z M3.6,0L5.4,0L5.4,8.6L3.6,8.6Z M3.6,17.4L5.4,17.4L5.4,26L3.6,26Z M0,13A4.5,4.5,0,1,0,9,13A4.5,4.5,0,1,0,0,13Z';

function renderErr(params, api) {
  const t = api.value(0), v = api.value(1), e = api.value(2);
  const c = api.coord([t, v]);
  const hi = api.coord([t, v + e]);
  const lo = api.coord([t, v - e]);
  const col = api.visual('color');
  return {
    type: 'group',
    children: [
      { type: 'line', shape: { x1: c[0], y1: hi[1], x2: c[0], y2: lo[1] }, style: { stroke: col, lineWidth: 2.3 } },
      { type: 'circle', shape: { cx: c[0], cy: c[1], r: 4.5 }, style: { fill: col } }
    ]
  };
}

const datasets = [lasCampanas, sutherland, sidingSpring];
const chart = echarts.init(document.getElementById('chart'), null, { renderer: 'canvas' });
chart.setOption({
  animation: false,
  backgroundColor: '#fff',
  title: {
    text: titleText, left: 280, top: 12, padding: 0,
    textStyle: { fontFamily: FONT, fontSize: 27.6, fontWeight: 'normal', color: '#000' }
  },
  grid: {
    left: 117.7, right: 12, top: 48.7, bottom: 71.3, containLabel: false, outerBoundsMode: 'none',
    show: true, borderColor: '#000', borderWidth: 1.8, backgroundColor: 'transparent'
  },
  legend: {
    orient: 'vertical', left: 653, top: 61, selectedMode: false,
    itemWidth: 61, itemHeight: 26, itemGap: 7.5,
    padding: [9, 12, 7, 9],
    backgroundColor: 'rgba(255,255,255,0.8)', borderColor: 'rgba(204,204,204,0.8)', borderWidth: 1.8, borderRadius: 5,
    textStyle: { fontFamily: FONT, fontSize: 23, color: '#000' },
    data: seriesNames.map(n => ({ name: n, icon: icon }))
  },
  xAxis: {
    type: 'value', min: 0, max: 3600, interval: 500,
    name: xLabel, nameLocation: 'middle', nameGap: 49,
    nameTextStyle: { fontFamily: FONT, fontSize: 23, color: '#000' },
    axisLine: { show: true, onZero: false, lineStyle: { color: '#000', width: 1.8 } },
    axisTick: { show: true, length: 8, lineStyle: { color: '#000', width: 1.8 }, customValues: xTicks },
    axisLabel: { margin: 17, fontFamily: FONT, fontSize: 23, color: '#000', customValues: xTicks, formatter: v => String(v) },
    splitLine: { show: false }
  },
  yAxis: {
    type: 'value', min: -1.5, max: 1.5, interval: 0.5,
    name: yLabel, nameLocation: 'middle', nameGap: 72,
    nameTextStyle: { fontFamily: FONT, fontSize: 23, color: '#000' },
    axisLine: { show: true, onZero: false, lineStyle: { color: '#000', width: 1.8 } },
    axisTick: { show: true, length: 8, lineStyle: { color: '#000', width: 1.8 }, customValues: yTicks },
    axisLabel: {
      margin: 18, fontFamily: FONT, fontSize: 23, color: '#000', customValues: yTicks,
      formatter: v => Number(v).toFixed(1).replace('-', '\u2212')
    },
    splitLine: { show: false }
  },
  series: datasets.map((d, i) => ({
    type: 'custom', name: seriesNames[i], data: d,
    encode: { x: 0, y: 1 }, renderItem: renderErr, clip: true, silent: true,
    itemStyle: { color: colors[i] }
  }))
});
</script>
</body>
</html>
